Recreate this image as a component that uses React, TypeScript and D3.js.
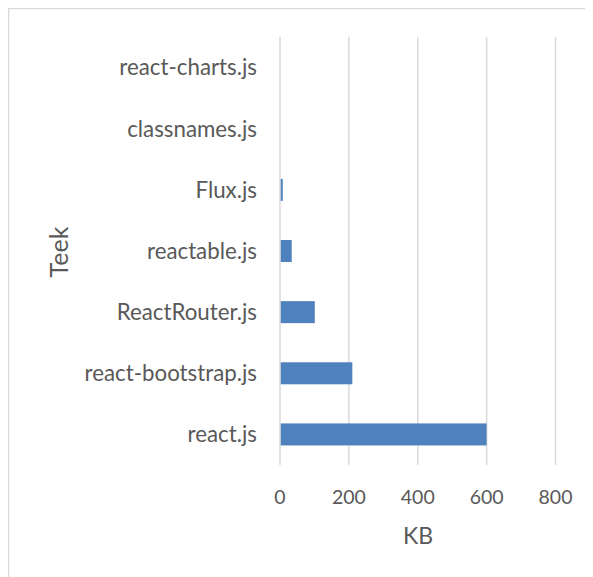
import React from "react";
import * as d3 from "d3";

const categories = ["react-charts.js", "classnames.js", "Flux.js", "reactable.js", "ReactRouter.js", "react-bootstrap.js", "react.js"];
const sizes = [0, 0, 8, 34, 101, 210, 600];
const xTicks = [0, 200, 400, 600, 800];

const FONT = "Lato, 'Open Sans', sans-serif";
const TEXT = "#595959";

export default function App() {
  const x = d3.scaleLinear().domain([0, 800]).range([272, 547.5]);
  const y = d3.scaleBand<string>().domain(categories).range([29, 457]).paddingInner(0.64).paddingOuter(0.32);
  return (
    <>
      <style>{"body{overflow:hidden}"}</style>
      <svg width={585} height={569} style={{ display: "block" }}>
        <rect x={0.5} y={0.5} width={700} height={700} fill="#fff" stroke="#d9d9d9" strokeWidth={1.5} />
        {xTicks.map((t) => (
          <g key={t}>
            <line x1={x(t)} x2={x(t)} y1={29} y2={457} stroke="#d9d9d9" strokeWidth={1.5} />
            <text x={x(t)} y={489} dy="0.35em" textAnchor="middle" fontFamily={FONT} fontSize={19.5} fill={TEXT}>{t}</text>
          </g>
        ))}
        {categories.map((c, i) => (
          <g key={c}>
            {sizes[i] > 0 && (
              <rect x={x(0) + 0.75} y={y(c)!} width={Math.max(0, x(sizes[i]) - x(0) - 0.75)} height={y.bandwidth()} fill="#4f81bd" />
            )}
            <text x={249} y={y(c)! + y.bandwidth() / 2} dy="0.35em" textAnchor="end" fontFamily={FONT} fontSize={22.3} fill={TEXT}>{c}</text>
          </g>
        ))}
        <text x={410} y={528} dy="0.35em" textAnchor="middle" fontFamily={FONT} fontSize={23} fill={TEXT}>KB</text>
        <text transform="translate(60,244) rotate(-90)" textAnchor="middle" fontFamily={FONT} fontSize={25} fill={TEXT}>Teek</text>
      </svg>
    </>
  );
}
